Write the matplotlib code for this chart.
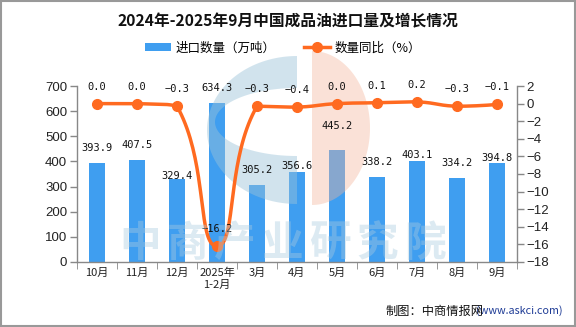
import numpy as np
import matplotlib
matplotlib.use("Agg")
import matplotlib.pyplot as plt
import matplotlib.transforms as mtransforms
from matplotlib.patches import Polygon, Patch, Rectangle
from matplotlib.lines import Line2D

# ---------------- data ----------------
categories = ["10月", "11月", "12月", "2025年\n1-2月", "3月", "4月", "5月", "6月", "7月", "8月", "9月"]
volume = [393.9, 407.5, 329.4, 634.3, 305.2, 356.6, 445.2, 338.2, 403.1, 334.2, 394.8]
yoy = [0.0, 0.0, -0.3, -16.2, -0.3, -0.4, 0.0, 0.1, 0.2, -0.3, -0.1]
left_ticks = [0, 100, 200, 300, 400, 500, 600, 700]
right_ticks = [2, 0, -2, -4, -6, -8, -10, -12, -14, -16, -18]

# label offsets (pixels above bar top) -- styling only
bar_label_off = [15, 15, 3, 15, 15, 6, 24, 15, 6, 15, 5]

CJK = ["Noto Sans CJK SC", "DejaVu Sans"]
BAR_C = "#3f9ef0"
LINE_C = "#ff6a20"

W, H, DPI = 576, 327, 100
fig = plt.figure(figsize=(W / DPI, H / DPI), dpi=DPI)
fig.patch.set_facecolor("white")

def fx(px):
    return px / W

def fy(py):
    return 1 - py / H

x0, x1, ytop, ybot = 77, 517, 86, 262
ax = fig.add_axes([fx(x0), fy(ybot), fx(x1) - fx(x0), fy(ytop) - fy(ybot)])
ax2 = ax.twinx()

x = np.arange(len(categories))
ax.bar(x, volume, width=0.4, color=BAR_C, zorder=2)
ax.set_xlim(-0.5, len(categories) - 0.5)
ax.set_ylim(0, 700)
ax.set_yticks(left_ticks)
ax2.set_ylim(-18, 2)
ax2.set_yticks(right_ticks)
ax2.set_yticklabels([str(t).replace("-", "\u2212") for t in right_ticks])

spine_c = "#888888"
for a in (ax, ax2):
    a.spines["top"].set_visible(False)
    for s in ("left", "right", "bottom"):
        a.spines[s].set_color(spine_c)
        a.spines[s].set_linewidth(1.0)
    a.tick_params(axis="y", colors="#222222", direction="out", length=5, width=1,
                  labelsize=9.5, pad=2)
    a.tick_params(axis="y", color=spine_c)
    for lab in a.get_yticklabels():
        lab.set_fontfamily("Liberation Sans")
ax.spines["right"].set_visible(False)
ax2.spines["left"].set_visible(False)
ax2.spines["bottom"].set_visible(False)

ax.set_xticks(x)
ax.set_xticklabels(categories, fontfamily=CJK, fontsize=8, linespacing=1.3)
ax.tick_params(axis="x", length=0, pad=4, colors="#222222")
ax.set_xticks(np.arange(-0.5, len(categories) + 0.5, 1), minor=True)
ax.tick_params(axis="x", which="minor", length=5, color=spine_c, direction="out")

# ---------------- watermark logo ----------------
pix = mtransforms.Affine2D().scale(1 / DPI, -1 / DPI).translate(0, H / DPI) + fig.dpi_scale_trans

t = np.linspace(np.pi / 2, 3 * np.pi / 2, 80)
outer = np.c_[297 + 90 * np.cos(t), 130 - 74 * np.sin(t)]
inner = np.c_[297 + 82 * np.cos(t[::-1]), 122 - 34 * np.sin(t[::-1])]
blue_poly = np.vstack([outer, [[297, 204]], [[297, 156]], inner, [[297, 88]], [[297, 56]]])
ax.add_patch(Polygon(blue_poly, closed=True, transform=pix, facecolor=(155/255, 195/255, 217/255),
                     alpha=0.45, edgecolor="none", zorder=3, clip_on=False))
t2 = np.linspace(-np.pi / 2, np.pi / 2, 80)
orange_poly = np.c_[312 + 58 * np.cos(t2), 128 - 77 * np.sin(t2)]
ax.add_patch(Polygon(orange_poly, closed=True, transform=pix, facecolor=(244/255, 182/255, 155/255),
                     alpha=0.4, edgecolor="none", zorder=3, clip_on=False))
for k, ch in enumerate("中商产业研究院"):
    fig.text(fx(140 + 47.5 * k), fy(244), ch, fontfamily=CJK, fontsize=30, fontweight="bold",
             color="#a9cbe0", alpha=0.4, ha="center", va="center", zorder=5)

# ---------------- smooth line (ECharts-like bezier) ----------------
fig.canvas.draw()
pts = ax2.transData.transform(np.c_[x, yoy])
n = len(pts)
smooth = 0.5
cps_prev = pts.copy()
cps_next = pts.copy()
for i in range(n):
    if i == 0 or i == n - 1:
        continue
    p, pp, pn = pts[i], pts[i - 1], pts[i + 1]
    d = pn - pp
    d1 = np.hypot(*(p - pp))
    d2 = np.hypot(*(pn - p))
    r = d1 / (d1 + d2)
    cp = p - d * smooth * r
    cn = p + d * smooth * (1 - r)
    cp[1] = np.clip(cp[1], min(pp[1], p[1]), max(pp[1], p[1]))
    cn[1] = np.clip(cn[1], min(pn[1], p[1]), max(pn[1], p[1]))
    cps_prev[i] = cp
    cps_next[i] = cn
curve = []
tt = np.linspace(0, 1, 40)[:, None]
for i in range(n - 1):
    P0, P1, P2, P3 = pts[i], cps_next[i], cps_prev[i + 1], pts[i + 1]
    seg = (1 - tt) ** 3 * P0 + 3 * (1 - tt) ** 2 * tt * P1 + 3 * (1 - tt) * tt ** 2 * P2 + tt ** 3 * P3
    curve.append(seg)
curve = ax2.transData.inverted().transform(np.vstack(curve))
ax2.plot(curve[:, 0], curve[:, 1], color=LINE_C, lw=2.5, zorder=6, solid_capstyle="round")
ax2.plot(x, yoy, "o", color=LINE_C, ms=7, zorder=7)
ax2.set_zorder(ax.get_zorder() + 1)
ax2.patch.set_visible(False)

# ---------------- data labels ----------------
MONO = "DejaVu Sans Mono"
for xi, v, off in zip(x, volume, bar_label_off):
    ax.annotate(f"{v:.1f}", (xi, v), xytext=(0, off), textcoords="offset pixels",
                ha="center", va="center", fontsize=7.5, fontfamily=MONO, color="#111111", zorder=8)
for xi, v in zip(x, yoy):
    ax2.annotate(f"{v:.1f}".replace("-", "\u2212"), (xi, v), xytext=(0, 17), textcoords="offset pixels",
                 ha="center", va="center", fontsize=7.5, fontfamily=MONO, color="#111111", zorder=8)

# ---------------- title, legend, footer ----------------
fig.text(fx(288), fy(21), "2024年-2025年9月中国成品油进口量及增长情况", fontfamily=CJK,
         fontsize=11.3, fontweight="bold", ha="center", va="center", color="#111111")

handles = [Patch(facecolor=BAR_C, edgecolor="none"),
           Line2D([0], [0], color=LINE_C, lw=2.5, marker="o", ms=7)]
fig.legend(handles, ["进口数量（万吨）", "数量同比（%）"], loc="center", bbox_to_anchor=(fx(283), fy(48)),
           ncol=2, frameon=False, prop={"family": CJK, "size": 9}, handlelength=2.1,
           handleheight=0.6, columnspacing=2.2, handletextpad=0.4)

fig.text(fx(563), fy(311), "(www.askci.com)", fontfamily=CJK, fontsize=7.8, color="#1f3c96",
         ha="right", va="center")
fig.text(fx(483), fy(311), "制图：中商情报网", fontfamily=CJK, fontsize=8.8, color="#111111",
         ha="right", va="center")

fig.add_artist(Rectangle((0.001, 0.002), 0.997, 0.995, transform=fig.transFigure, fill=False,
                         edgecolor="#999999", lw=1.5))

fig.savefig("out.png", dpi=DPI)
